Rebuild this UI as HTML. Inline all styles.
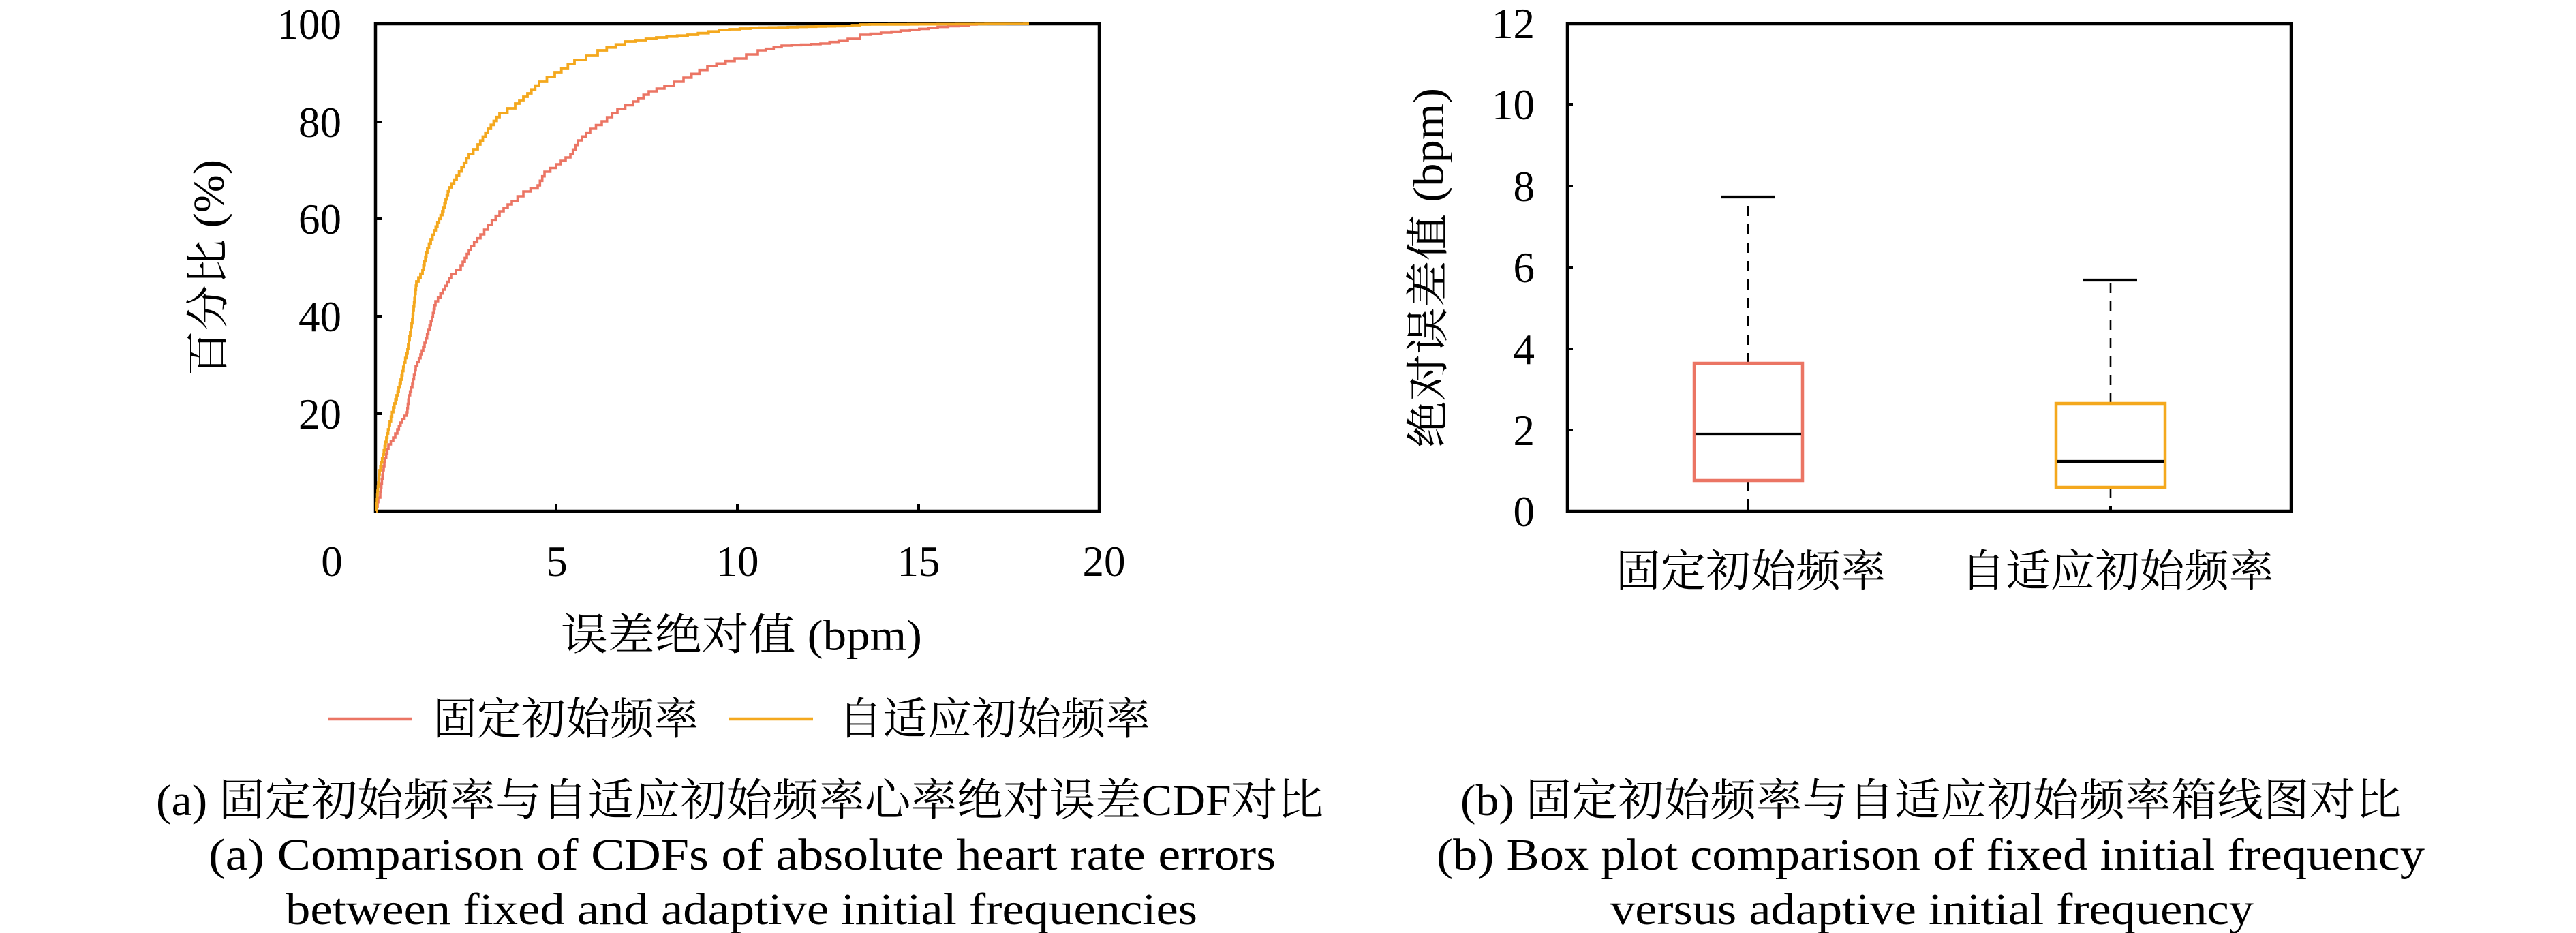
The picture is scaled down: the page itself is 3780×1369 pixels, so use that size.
<!DOCTYPE html>
<html>
<head>
<meta charset="utf-8">
<style>
html,body{margin:0;padding:0;background:#fff;}
svg{display:block;}
text{font-family:"Liberation Serif","Noto Serif CJK SC",serif;fill:#000;}
</style>
</head>
<body>
<svg id="s" width="3780" height="1369" viewBox="0 0 3780 1369" xmlns="http://www.w3.org/2000/svg">
<rect width="3780" height="1369" fill="#fff"/>

<!-- ================= LEFT PLOT ================= -->
<rect x="551" y="35" width="1062" height="715" fill="none" stroke="#000" stroke-width="4.5"/>
<!-- ticks -->
<g stroke="#000" stroke-width="4">
<line x1="551" y1="179" x2="561" y2="179"/>
<line x1="551" y1="321" x2="561" y2="321"/>
<line x1="551" y1="464" x2="561" y2="464"/>
<line x1="551" y1="607" x2="561" y2="607"/>
<line x1="816" y1="750" x2="816" y2="739"/>
<line x1="1082" y1="750" x2="1082" y2="739"/>
<line x1="1348" y1="750" x2="1348" y2="739"/>
</g>
<path id="red" fill="none" stroke="#EB7564" stroke-width="3.6" stroke-linejoin="miter" d=""/>
<path id="org" fill="none" stroke="#F4A81D" stroke-width="3.8" stroke-linejoin="miter" d=""/>

<g font-size="63" text-anchor="end">
<text x="501" y="57">100</text>
<text x="501" y="201">80</text>
<text x="501" y="343">60</text>
<text x="501" y="486">40</text>
<text x="501" y="629">20</text>
</g>
<g font-size="63" text-anchor="middle">
<text x="487" y="845">0</text>
<text x="817" y="845">5</text>
<text x="1082" y="845">10</text>
<text x="1348" y="845">15</text>
<text x="1620" y="845">20</text>
</g>
<text x="306" y="393" font-size="64" text-anchor="middle" dominant-baseline="central" transform="rotate(-90 306 393)" textLength="318" lengthAdjust="spacingAndGlyphs">百分比 (%)</text>
<text x="1088" y="932" font-size="64" text-anchor="middle" dominant-baseline="central" textLength="530" lengthAdjust="spacingAndGlyphs">误差绝对值 (bpm)</text>

<!-- legend -->
<line x1="481" y1="1055" x2="604" y2="1055" stroke="#EB7564" stroke-width="4.5"/>
<text x="635" y="1056" font-size="65" dominant-baseline="central" textLength="390" lengthAdjust="spacingAndGlyphs">固定初始频率</text>
<line x1="1070" y1="1055" x2="1193" y2="1055" stroke="#F4A81D" stroke-width="4.5"/>
<text x="1230" y="1056" font-size="65" dominant-baseline="central" textLength="458" lengthAdjust="spacingAndGlyphs">自适应初始频率</text>

<!-- captions a -->
<text x="229" y="1196" font-size="65" textLength="1713" lengthAdjust="spacingAndGlyphs">(a) 固定初始频率与自适应初始频率心率绝对误差CDF对比</text>
<text x="306" y="1276" font-size="66" textLength="1566" lengthAdjust="spacingAndGlyphs">(a) Comparison of CDFs of absolute heart rate errors</text>
<text x="419" y="1356" font-size="66" textLength="1338" lengthAdjust="spacingAndGlyphs">between fixed and adaptive initial frequencies</text>

<!-- ================= RIGHT PLOT ================= -->
<g stroke="#000" stroke-width="2.6" stroke-dasharray="15 12">
<line x1="2565" y1="533" x2="2565" y2="291"/>
<line x1="2565" y1="705" x2="2565" y2="750"/>
<line x1="3097" y1="592" x2="3097" y2="413"/>
<line x1="3097" y1="715" x2="3097" y2="750"/>
</g>
<g stroke="#000" stroke-width="4.2">
<line x1="2526" y1="289" x2="2604" y2="289"/>
<line x1="3057" y1="411" x2="3136" y2="411"/>
</g>
<rect x="2486" y="533" width="159" height="172" fill="none" stroke="#EB7564" stroke-width="4.5"/>
<rect x="3017" y="592" width="160" height="123" fill="none" stroke="#F4A81D" stroke-width="4.5"/>
<g stroke="#000" stroke-width="4.2">
<line x1="2488" y1="637" x2="2643" y2="637"/>
<line x1="3019" y1="677" x2="3175" y2="677"/>
</g>

<rect x="2300" y="35" width="1062" height="715" fill="none" stroke="#000" stroke-width="4.5"/>
<g stroke="#000" stroke-width="4">
<line x1="2300" y1="631" x2="2308" y2="631"/>
<line x1="2300" y1="512" x2="2308" y2="512"/>
<line x1="2300" y1="392" x2="2308" y2="392"/>
<line x1="2300" y1="273" x2="2308" y2="273"/>
<line x1="2300" y1="153" x2="2308" y2="153"/>
<line x1="2565" y1="750" x2="2565" y2="742"/>
<line x1="3097" y1="750" x2="3097" y2="742"/>
</g>
<g font-size="63" text-anchor="end">
<text x="2252" y="772">0</text>
<text x="2252" y="653">2</text>
<text x="2252" y="534">4</text>
<text x="2252" y="414">6</text>
<text x="2252" y="295">8</text>
<text x="2252" y="175">10</text>
<text x="2252" y="56">12</text>
</g>
<text x="2096" y="393" font-size="64" text-anchor="middle" dominant-baseline="central" transform="rotate(-90 2096 393)" textLength="528" lengthAdjust="spacingAndGlyphs">绝对误差值 (bpm)</text>
<text x="2569" y="839" font-size="65" text-anchor="middle" dominant-baseline="central" textLength="396" lengthAdjust="spacingAndGlyphs">固定初始频率</text>
<text x="3107" y="839" font-size="65" text-anchor="middle" dominant-baseline="central" textLength="459" lengthAdjust="spacingAndGlyphs">自适应初始频率</text>

<!-- captions b -->
<text x="2143" y="1196" font-size="65" textLength="1381" lengthAdjust="spacingAndGlyphs">(b) 固定初始频率与自适应初始频率箱线图对比</text>
<text x="2108" y="1276" font-size="66" textLength="1450" lengthAdjust="spacingAndGlyphs">(b) Box plot comparison of fixed initial frequency</text>
<text x="2363" y="1356" font-size="66" textLength="944" lengthAdjust="spacingAndGlyphs">versus adaptive initial frequency</text>
</svg>
<script>
(function(){
  var org=[[552,750],[554,720],[557,690],[562,667],[567,642],[572,618],[577,598],[582,580],[588,557],[593,532],[598,512],[605,468],[611,413],[620,396],[627,364],[637,338],[649,310],[659,275],[670,258],[688,226],[701,212],[716,189],[733,166],[756,152],[774,137],[791,120],[814,106],[843,88],[877,74],[917,61],[963,55],[1009,51],[1055,44],[1101,41],[1239,38],[1262,36],[1503,35],[1510,35]];
  var red=[[552,750],[555,730],[558,722],[562,690],[565,672],[570,652],[577,642],[583,630],[590,615],[597,605],[600,580],[605,563],[610,537],[617,520],[623,503],[634,465],[639,442],[650,425],[662,402],[676,390],[691,361],[705,344],[716,330],[733,310],[751,295],[768,281],[789,272],[799,252],[816,241],[837,226],[848,206],[866,189],[883,178],[906,160],[929,149],[952,134],[975,126],[1003,114],[1038,97],[1078,86],[1112,74],[1147,67],[1204,64],[1244,57],[1262,51],[1308,46.5],[1376,39.6],[1422,36],[1433,35]];
  function build(p){
    var d="M"+p[0][0]+" "+p[0][1];
    for(var k=1;k<p.length;k++){
      var x0=p[k-1][0],y0=p[k-1][1],x1=p[k][0],y1=p[k][1];
      var n=Math.max(1,Math.round(Math.max((y0-y1)/6,(x1-x0)/14)));
      for(var i=1;i<=n;i++){
        var x=x0+(x1-x0)*i/n,y=y0+(y1-y0)*i/n;
        d+=" H"+x.toFixed(1)+" V"+y.toFixed(1);
      }
    }
    return d;
  }
  document.getElementById("org").setAttribute("d",build(org));
  document.getElementById("red").setAttribute("d",build(red));
})();
</script>
</body>
</html>
